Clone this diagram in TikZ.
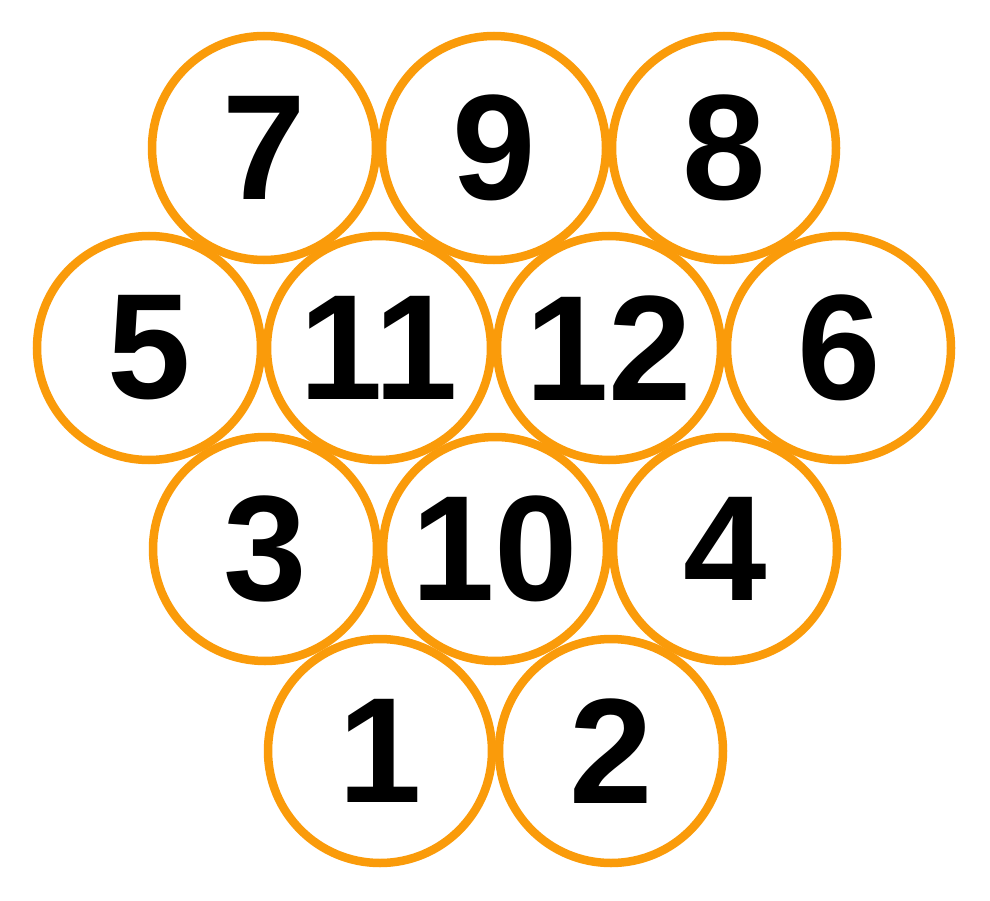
\documentclass[tikz,border=0pt]{standalone}
\usepackage{fontspec}
\setmainfont{Liberation Sans}
\usepackage{tikz}
\definecolor{ballorange}{RGB}{250,155,10}

\begin{document}
\begin{tikzpicture}[x=1pt,y=-1pt,
  ball/.style={shape=circle, draw=ballorange, line width=8.5pt, fill=white,
    minimum size=224pt, inner sep=0pt,
    font=\fontsize{150}{150}\selectfont\bfseries}]
\useasboundingbox (0,0) rectangle (990,901);

\node (b7) at (264,148) [ball] {7};
\node (b9) at (494,148) [ball] {9};
\node (b8) at (724,148) [ball] {8};

\node (b5) at (149,348) [ball] {5};
\node (b11) at (379,348) [ball] {11};
\node (b12) at (609,348) [ball] {12};
\node (b6) at (839,348) [ball] {6};

\node (b3) at (265,549) [ball] {3};
\node (b10) at (495,549) [ball] {10};
\node (b4) at (725,549) [ball] {4};

\node (b1) at (380,751) [ball] {1};
\node (b2) at (611,751) [ball] {2};
\end{tikzpicture}
\end{document}
